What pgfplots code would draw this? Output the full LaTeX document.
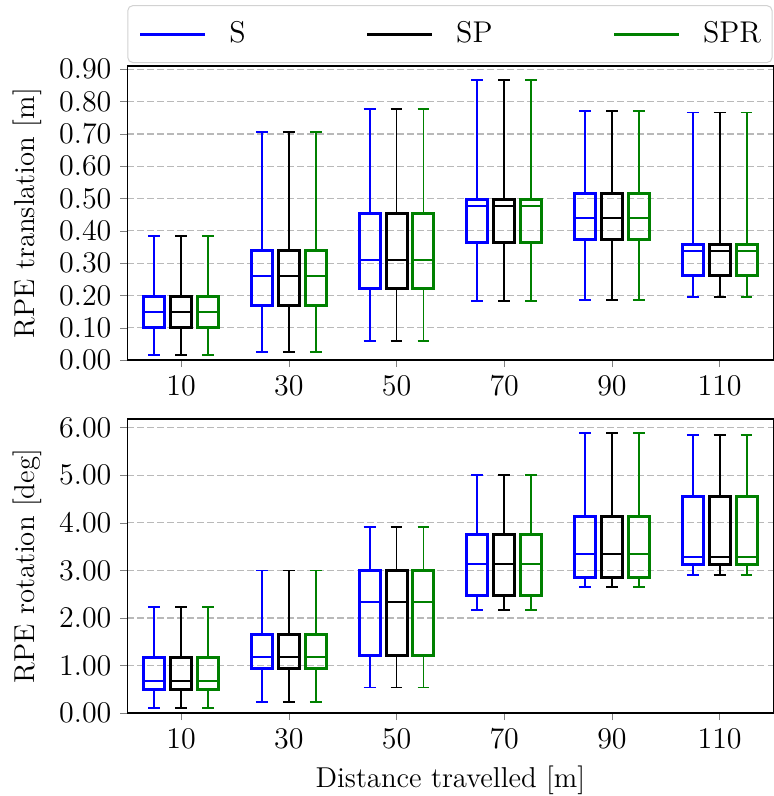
\documentclass[border=0pt]{standalone}
\usepackage{pgfplots}
\pgfplotsset{compat=1.18}
\usepgfplotslibrary{statistics}
\usetikzlibrary{calc}
\definecolor{mplblue}{RGB}{0,0,255}
\definecolor{mplgreen}{RGB}{0,128,0}

% one prepared box: colour, position, lw, lq, median, uq, uw
\newcommand{\rpebox}[7]{%
  \addplot[#1, forget plot, boxplot prepared={draw direction=y, draw position=#2,
    lower whisker=#3, lower quartile=#4, median=#5,
    upper quartile=#6, upper whisker=#7}] coordinates {};}

\pgfplotsset{
  rpe/.style={
    scale only axis, width=258.4pt, height=117.6pt,
    xmin=0, xmax=120, xtick={10,30,50,70,90,110},
    ymin=0,
    tick align=outside, xtick pos=bottom, ytick pos=left,
    major tick length=2.8pt,
    axis line style={line width=0.6pt},
    ymajorgrids,
    grid style={gray!55, line width=0.5pt, dash pattern=on 2.8pt off 1.2pt},
    yticklabel style={/pgf/number format/.cd, fixed, fixed zerofill, precision=2},
    tick label style={font=\fontsize{12.2}{14}\selectfont},
    label style={font=\fontsize{11.5}{13}\selectfont},
    boxplot/draw direction=y,
    boxplot/box extend=3.9, boxplot/whisker extend=2.2,
    boxplot/every box/.style={line width=1.2pt},
    boxplot/every whisker/.style={line width=0.75pt},
    boxplot/every median/.style={line width=0.75pt},
  },
}

\begin{document}
\begin{tikzpicture}
% rotation
\begin{axis}[rpe, name=bot, at={(0,0)}, anchor=south west,
  ymax=6.18, ytick={0,1,2,3,4,5,6},
  ylabel={RPE rotation [deg]},
  xlabel={Distance travelled [m]}]
\rpebox{mplblue}{5}{0.11}{0.50}{0.68}{1.18}{2.23}
\rpebox{black}{10}{0.11}{0.50}{0.68}{1.18}{2.23}
\rpebox{mplgreen}{15}{0.11}{0.50}{0.68}{1.18}{2.23}
\rpebox{mplblue}{25}{0.24}{0.94}{1.18}{1.65}{3.00}
\rpebox{black}{30}{0.24}{0.94}{1.18}{1.65}{3.00}
\rpebox{mplgreen}{35}{0.24}{0.94}{1.18}{1.65}{3.00}
\rpebox{mplblue}{45}{0.54}{1.22}{2.34}{3.00}{3.92}
\rpebox{black}{50}{0.54}{1.22}{2.34}{3.00}{3.92}
\rpebox{mplgreen}{55}{0.54}{1.22}{2.34}{3.00}{3.92}
\rpebox{mplblue}{65}{2.17}{2.48}{3.14}{3.75}{5.01}
\rpebox{black}{70}{2.17}{2.48}{3.14}{3.75}{5.01}
\rpebox{mplgreen}{75}{2.17}{2.48}{3.14}{3.75}{5.01}
\rpebox{mplblue}{85}{2.66}{2.86}{3.35}{4.13}{5.89}
\rpebox{black}{90}{2.66}{2.86}{3.35}{4.13}{5.89}
\rpebox{mplgreen}{95}{2.66}{2.86}{3.35}{4.13}{5.89}
\rpebox{mplblue}{105}{2.90}{3.12}{3.28}{4.55}{5.84}
\rpebox{black}{110}{2.90}{3.12}{3.28}{4.55}{5.84}
\rpebox{mplgreen}{115}{2.90}{3.12}{3.28}{4.55}{5.84}
\end{axis}

% translation
\begin{axis}[rpe, name=top, at={(0,141.2pt)}, anchor=south west,
  ymax=0.91, ytick={0,0.1,0.2,0.3,0.4,0.5,0.6,0.7,0.8,0.9},
  ylabel={RPE translation [m]},
  legend columns=3,
  legend cell align=left,
  legend image code/.code={\draw[#1] (0pt,0pt) -- (26pt,0pt);},
  legend style={at={(0,1)}, anchor=south west, yshift=1.2pt,
    draw=gray!35, rounded corners=2pt, inner xsep=4.4pt, inner ysep=6.4pt,
    nodes={inner sep=0pt},
    font=\fontsize{12}{14}\selectfont,
    /tikz/every odd column/.append style={column sep=9pt},
    /tikz/every even column/.append style={column sep=48pt}}]
\addlegendimage{mplblue, line width=1.2pt}
\addlegendentry{S}
\addlegendimage{black, line width=1.2pt}
\addlegendentry{SP}
\addlegendimage{mplgreen, line width=1.2pt}
\addlegendentry{SPR}
\rpebox{mplblue}{5}{0.017}{0.100}{0.150}{0.198}{0.384}
\rpebox{black}{10}{0.017}{0.100}{0.150}{0.198}{0.384}
\rpebox{mplgreen}{15}{0.017}{0.100}{0.150}{0.198}{0.384}
\rpebox{mplblue}{25}{0.025}{0.170}{0.261}{0.338}{0.705}
\rpebox{black}{30}{0.025}{0.170}{0.261}{0.338}{0.705}
\rpebox{mplgreen}{35}{0.025}{0.170}{0.261}{0.338}{0.705}
\rpebox{mplblue}{45}{0.060}{0.222}{0.310}{0.454}{0.777}
\rpebox{black}{50}{0.060}{0.222}{0.310}{0.454}{0.777}
\rpebox{mplgreen}{55}{0.060}{0.222}{0.310}{0.454}{0.777}
\rpebox{mplblue}{65}{0.184}{0.364}{0.477}{0.498}{0.867}
\rpebox{black}{70}{0.184}{0.364}{0.477}{0.498}{0.867}
\rpebox{mplgreen}{75}{0.184}{0.364}{0.477}{0.498}{0.867}
\rpebox{mplblue}{85}{0.186}{0.372}{0.441}{0.516}{0.772}
\rpebox{black}{90}{0.186}{0.372}{0.441}{0.516}{0.772}
\rpebox{mplgreen}{95}{0.186}{0.372}{0.441}{0.516}{0.772}
\rpebox{mplblue}{105}{0.194}{0.262}{0.338}{0.358}{0.766}
\rpebox{black}{110}{0.194}{0.262}{0.338}{0.358}{0.766}
\rpebox{mplgreen}{115}{0.194}{0.262}{0.338}{0.358}{0.766}
\end{axis}

\pgfresetboundingbox
\path[use as bounding box] ($(bot.south west)+(-50.9pt,-33.1pt)$)
  rectangle ($(top.north east)+(0pt,26.4pt)$);
\end{tikzpicture}
\end{document}
